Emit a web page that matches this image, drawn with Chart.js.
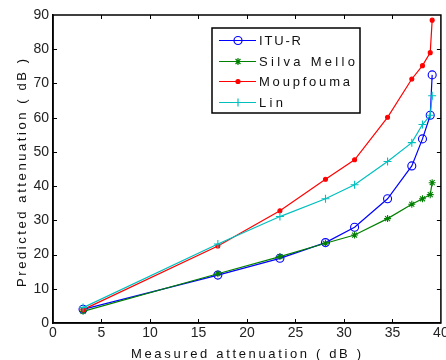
<!DOCTYPE html>
<html>
<head>
<meta charset="utf-8">
<script src="https://cdn.jsdelivr.net/npm/chart.js@4/dist/chart.umd.min.js"></script>
<style>
  html, body { margin: 0; padding: 0; background: #fff; }
  canvas { display: block; }
</style>
</head>
<body>
<canvas id="attChart" width="446" height="360"></canvas>
<script>
// measured attenuation (dB) on the x axis
const measured   = [3.1, 17.0, 23.4, 28.1, 31.1, 34.5, 37.0, 38.1, 38.9, 39.1];
// predicted attenuation (dB) for each model
const ituR       = [4.0, 14.0, 18.9, 23.5, 28.0, 36.3, 45.9, 53.8, 60.7, 72.5];
const silvaMello = [3.4, 14.4, 19.4, 23.3, 25.7, 30.5, 34.7, 36.3, 37.5, 41.0];
const moupfouma  = [3.9, 22.5, 32.8, 42.0, 47.7, 60.1, 71.3, 75.2, 79.0, 88.5];
const lin        = [4.5, 23.1, 31.1, 36.3, 40.4, 47.2, 52.7, 58.0, 60.7, 66.4];
const modelNames = ['ITU-R', 'Silva Mello', 'Moupfouma', 'Lin'];
const xTicks = [0, 5, 10, 15, 20, 25, 30, 35, 40];
const yTicks = [0, 10, 20, 30, 40, 50, 60, 70, 80, 90];

const tickFont = "'Liberation Sans Narrow', 'Liberation Sans', Arial, sans-serif";
const textFont = "'Liberation Sans', Arial, sans-serif";

const toPoints = ys => ys.map((y, i) => ({ x: measured[i], y: y }));

const styles = [
  { color: '#0000ff', pointStyle: 'circle', radius: 4, fill: 'rgba(0,0,0,0)' },
  { color: '#008000', pointStyle: 'star', radius: 3.5, fill: '#008000' },
  { color: '#ff0000', pointStyle: 'circle', radius: 2, fill: '#ff0000' },
  { color: '#00bfbf', pointStyle: 'cross', radius: 4, fill: '#00bfbf' }
];
const series = [ituR, silvaMello, moupfouma, lin];

const datasets = series.map((ys, i) => ({
  label: modelNames[i],
  data: toPoints(ys),
  borderColor: styles[i].color,
  backgroundColor: styles[i].fill,
  pointBorderColor: styles[i].color,
  pointBackgroundColor: styles[i].fill,
  pointStyle: styles[i].pointStyle,
  pointRadius: styles[i].radius,
  pointBorderWidth: 1.1,
  borderWidth: 1.2,
  tension: 0,
  order: series.length - 1 - i
}));

// spaced-out text like the matlab export
function spacedText(ctx, text, x, y, targetWidth) {
  ctx.letterSpacing = '0px';
  const w0 = ctx.measureText(text).width;
  const sp = Math.max(0, (targetWidth - w0) / (text.length - 1));
  ctx.letterSpacing = sp + 'px';
  ctx.fillText(text, x, y);
  ctx.letterSpacing = '0px';
}

const decorations = {
  id: 'decorations',
  afterDraw(chart) {
    const ctx = chart.ctx;
    const a = chart.chartArea;
    const xs = chart.scales.x, ys = chart.scales.y;
    ctx.save();

    // box around the plot
    ctx.strokeStyle = '#000';
    ctx.lineWidth = 1.5;
    ctx.strokeRect(a.left, a.top, a.right - a.left, a.bottom - a.top);

    // inward ticks on all sides
    ctx.lineWidth = 1;
    ctx.beginPath();
    xTicks.slice(1, -1).forEach(v => {
      const px = Math.round(xs.getPixelForValue(v)) + 0.5;
      ctx.moveTo(px, a.bottom); ctx.lineTo(px, a.bottom - 4);
      ctx.moveTo(px, a.top); ctx.lineTo(px, a.top + 4);
    });
    yTicks.slice(1, -1).forEach(v => {
      const py = Math.round(ys.getPixelForValue(v)) + 0.5;
      ctx.moveTo(a.left, py); ctx.lineTo(a.left + 4, py);
      ctx.moveTo(a.right, py); ctx.lineTo(a.right - 4, py);
    });
    ctx.stroke();

    // axis titles
    ctx.fillStyle = '#111';
    ctx.font = '13px ' + textFont;
    ctx.textBaseline = 'alphabetic';
    ctx.textAlign = 'left';
    spacedText(ctx, 'Measured attenuation ( dB )', 131, 358, 230);

    ctx.save();
    ctx.translate(26, 287);
    ctx.rotate(-Math.PI / 2);
    spacedText(ctx, 'Predicted attenuation ( dB )', 0, 0, 228);
    ctx.restore();

    // legend box
    const box = { left: 212, top: 28, right: 360, bottom: 113 };
    ctx.fillStyle = '#fff';
    ctx.fillRect(box.left, box.top, box.right - box.left, box.bottom - box.top);
    ctx.strokeStyle = '#000';
    ctx.lineWidth = 1.5;
    ctx.strokeRect(box.left, box.top, box.right - box.left, box.bottom - box.top);

    const rows = [40, 61, 81, 102];
    chart.data.datasets.forEach((ds, i) => {
      const y = rows[i];
      ctx.strokeStyle = ds.borderColor;
      ctx.lineWidth = 1.2;
      ctx.beginPath();
      ctx.moveTo(219, y + 0.5); ctx.lineTo(256, y + 0.5);
      ctx.stroke();
      ctx.fillStyle = ds.pointBackgroundColor;
      Chart.helpers.drawPoint(ctx, {
        pointStyle: ds.pointStyle,
        radius: ds.pointRadius,
        borderWidth: 1,
        rotation: 0
      }, 238, y + 0.5);
      ctx.fillStyle = '#111';
      ctx.font = '13px ' + textFont;
      ctx.textBaseline = 'middle';
      const widths = [42, 96, 91, 24];
      spacedText(ctx, ds.label, 259, y + 1, widths[i]);
    });
    ctx.restore();
  }
};

new Chart(document.getElementById('attChart'), {
  type: 'line',
  data: { datasets: datasets },
  options: {
    responsive: false,
    animation: false,
    layout: { padding: { top: 15, right: 1, left: 0, bottom: 0 } },
    plugins: { legend: { display: false }, tooltip: { enabled: false } },
    scales: {
      x: {
        type: 'linear', min: 0, max: 40,
        afterBuildTicks: s => { s.ticks = xTicks.map(v => ({ value: v })); },
        afterFit: s => { s.height = 37; s.paddingLeft = 0; s.paddingRight = 0; },
        grid: { display: false, drawTicks: false },
        border: { display: true, color: '#000', width: 1.5 },
        ticks: { padding: 2, color: '#222', font: { family: tickFont, size: 14 }, maxRotation: 0, autoSkip: false }
      },
      y: {
        type: 'linear', min: 0, max: 90,
        afterBuildTicks: s => { s.ticks = yTicks.map(v => ({ value: v })); },
        afterFit: s => { s.width = 53; s.paddingTop = 0; s.paddingBottom = 0; },
        grid: { display: false, drawTicks: false },
        border: { display: true, color: '#000', width: 1.5 },
        ticks: { padding: 4, color: '#222', font: { family: tickFont, size: 14 }, autoSkip: false }
      }
    }
  },
  plugins: [decorations]
});
</script>
</body>
</html>
